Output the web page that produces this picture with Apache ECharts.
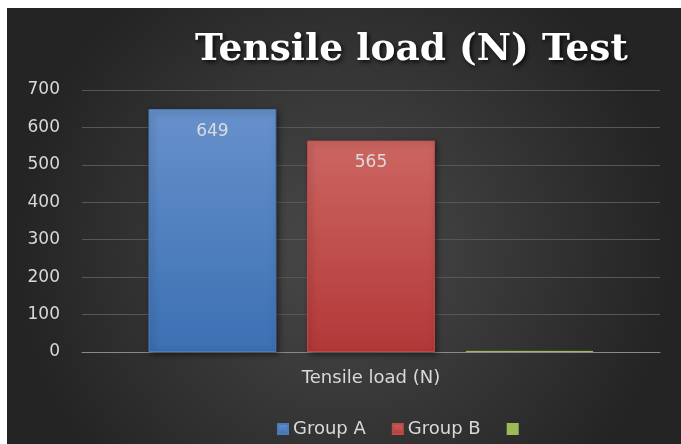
<!DOCTYPE html>
<html>
<head>
<meta charset="utf-8">
<script src="https://cdn.jsdelivr.net/npm/echarts@6/dist/echarts.min.js"></script>
<style>
html,body{margin:0;padding:0;background:#ffffff;width:681px;height:444px;overflow:hidden;}
#chart{position:absolute;left:7px;top:8px;width:674px;height:436px;}
</style>
</head>
<body>
<div id="chart"></div>
<script>
var categories = ['Tensile load (N)'];
var seriesNames = ['Group A', 'Group B', ' '];
var groupA = [649];
var groupB = [565];
var groupC = [3];
var yTicks = [0, 100, 200, 300, 400, 500, 600, 700];

var chart = echarts.init(document.getElementById('chart'));
var labelStyle = {show: true, position: 'insideTop', distance: 14, color: '#dcdcdc', fontSize: 17, fontFamily: 'DejaVu Sans'};
function grad(top, bottom) {
  return new echarts.graphic.LinearGradient(0, 0, 0, 1, [{offset: 0, color: top}, {offset: 1, color: bottom}]);
}
chart.setOption({
  backgroundColor: new echarts.graphic.RadialGradient(0.5, 0.55, 0.75, [
    {offset: 0, color: '#4a4a4a'},
    {offset: 1, color: '#242424'}
  ]),
  animation: false,
  title: {
    text: 'Tensile load (N) Test',
    left: 183, top: 18,
    textStyle: {
      color: '#ffffff', fontSize: 37.5, fontWeight: 'bold', fontFamily: 'DejaVu Serif',
      textShadowColor: 'rgba(0,0,0,0.8)', textShadowBlur: 4, textShadowOffsetX: 2, textShadowOffsetY: 2
    }
  },
  legend: {
    data: seriesNames.map(function (n) { return {name: n, icon: 'rect'}; }),
    left: 265, bottom: 1,
    itemWidth: 10, itemHeight: 10, itemGap: 26,
    textStyle: {color: '#d9d9d9', fontSize: 18, fontFamily: 'DejaVu Sans'}
  },
  grid: {left: 75, right: 21, top: 82, bottom: 92},
  xAxis: {
    type: 'category', data: categories,
    axisLine: {lineStyle: {color: '#8a8a8a', width: 1}},
    axisTick: {show: false},
    axisLabel: {color: '#d9d9d9', fontSize: 18, fontFamily: 'DejaVu Sans', margin: 17}
  },
  yAxis: {
    type: 'value', min: yTicks[0], max: yTicks[yTicks.length - 1], interval: 100,
    axisLine: {show: false}, axisTick: {show: false},
    axisLabel: {color: '#d9d9d9', fontSize: 17, fontFamily: 'DejaVu Sans', margin: 22},
    splitLine: {lineStyle: {color: '#575757', width: 1}}
  },
  series: [
    {name: seriesNames[0], type: 'bar', data: groupA, barGap: '24%', barCategoryGap: '23%',
     itemStyle: {color: grad('#6791cb', '#3b70b3'), borderColor: '#4d7ab8', borderWidth: 1, shadowColor: 'rgba(0,0,0,0.5)', shadowBlur: 6, shadowOffsetX: 2, shadowOffsetY: 2},
     label: labelStyle},
    {name: seriesNames[1], type: 'bar', data: groupB,
     itemStyle: {color: grad('#cc6662', '#b33838'), borderColor: '#c04a48', borderWidth: 1, shadowColor: 'rgba(0,0,0,0.5)', shadowBlur: 6, shadowOffsetX: 2, shadowOffsetY: 2},
     label: labelStyle},
    {name: seriesNames[2], type: 'bar', data: groupC, z: 5,
     itemStyle: {color: '#9bbb59', borderColor: '#9bbb59', borderWidth: 1},
     label: {show: false}}
  ]
});
</script>
</body>
</html>
